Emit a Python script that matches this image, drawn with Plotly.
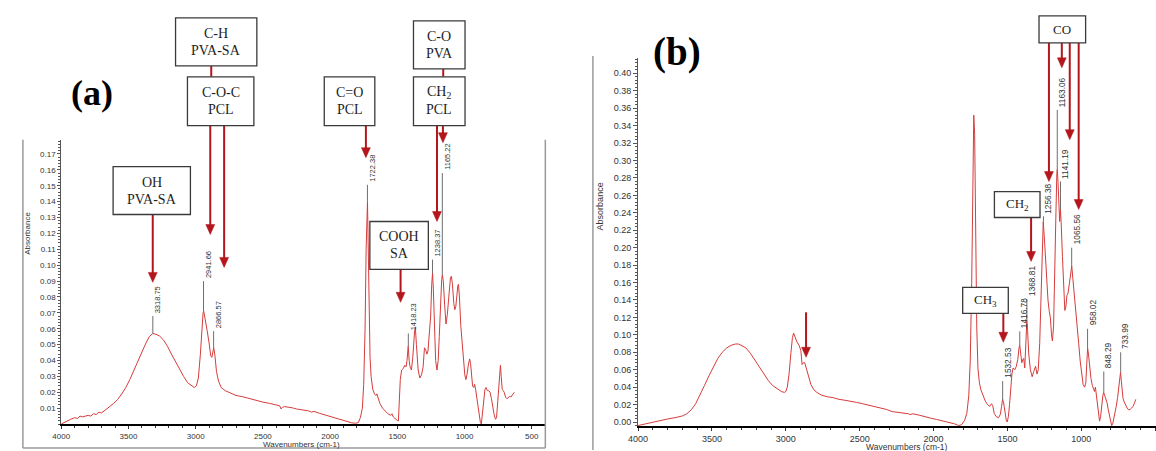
import plotly.graph_objects as go

W, H = 1156, 451
RED = "#B3161B"
CURVE = "#D63C3C"
BOXLINE = "#3A3A3A"
SANS = "Liberation Sans, Arial, sans-serif"
SERIF = "Liberation Serif, Times New Roman, serif"

# ---------------- data ----------------
wn_a = [4000, 3960, 3930, 3900, 3880, 3860, 3840, 3820, 3800, 3780, 3760, 3740, 3720, 3700, 3680, 3660,
        3640, 3610, 3580, 3550, 3520, 3490, 3460, 3430, 3400, 3370, 3345, 3320, 3295, 3270, 3240, 3210,
        3180, 3150, 3120, 3090, 3060, 3030, 3010, 2995, 2980, 2965, 2955, 2945, 2940, 2930, 2915, 2900,
        2888, 2880, 2872, 2866, 2858, 2845, 2830, 2810, 2780, 2740, 2700, 2650, 2600, 2550, 2500, 2450,
        2400, 2375, 2365, 2355, 2340, 2310, 2280, 2250, 2200, 2160, 2140, 2120, 2080, 2040, 2000, 1960,
        1920, 1880, 1840, 1810, 1790, 1775, 1760, 1750, 1740, 1732, 1726, 1722, 1717, 1710, 1703, 1695,
        1683, 1670, 1660, 1652, 1645, 1630, 1610, 1590, 1570, 1550, 1540, 1530, 1515, 1500, 1492, 1485,
        1478, 1468, 1455, 1445, 1435, 1428, 1419, 1412, 1405, 1395, 1385, 1372, 1366, 1358, 1345, 1333,
        1320, 1308, 1298, 1290, 1280, 1272, 1262, 1252, 1244, 1238, 1232, 1224, 1215, 1205, 1196, 1188,
        1178, 1170, 1165, 1158, 1148, 1138, 1128, 1118, 1105, 1098, 1090, 1080, 1072, 1065, 1058, 1050,
        1045, 1038, 1028, 1018, 1008, 998, 990, 982, 972, 962, 955, 948, 940, 932, 925, 918, 905, 893,
        882, 875, 868, 858, 848, 840, 830, 820, 810, 800, 790, 780, 770, 762, 752, 740, 733, 727, 720,
        712, 705, 695, 685, 675, 665, 655, 645, 635, 630]
abs_a = [0.000, 0.002, 0.003, 0.004, 0.0035, 0.005, 0.0045, 0.005, 0.0055, 0.005, 0.0065, 0.006, 0.0075,
         0.007, 0.0085, 0.0095, 0.011, 0.013, 0.0155, 0.019, 0.023, 0.028, 0.034, 0.040, 0.046, 0.051,
         0.055, 0.057, 0.0565, 0.0555, 0.053, 0.049, 0.044, 0.039, 0.034, 0.030, 0.026, 0.024, 0.023,
         0.024, 0.029, 0.044, 0.058, 0.070, 0.071, 0.067, 0.059, 0.051, 0.043, 0.042, 0.047, 0.048,
         0.044, 0.033, 0.027, 0.023, 0.021, 0.0195, 0.018, 0.0172, 0.016, 0.0148, 0.0138, 0.013, 0.0122,
         0.0115, 0.0095, 0.0105, 0.011, 0.0108, 0.0102, 0.0095, 0.0088, 0.0083, 0.0075, 0.0080, 0.0068,
         0.0058, 0.0048, 0.0035, 0.0025, 0.0015, 0.0008, 0.0005, 0.001, 0.004, 0.010, 0.025, 0.060,
         0.110, 0.139, 0.140, 0.115, 0.070, 0.042, 0.030, 0.022, 0.019, 0.018, 0.019, 0.0165, 0.013,
         0.010, 0.008, 0.0065, 0.0055, 0.0065, 0.0045, 0.003, 0.0022, 0.002, 0.012, 0.028, 0.034, 0.035,
         0.037, 0.036, 0.040, 0.049, 0.040, 0.036, 0.034, 0.042, 0.058, 0.061, 0.050, 0.034, 0.029,
         0.031, 0.036, 0.048, 0.047, 0.044, 0.046, 0.055, 0.068, 0.088, 0.095, 0.085, 0.058, 0.040,
         0.034, 0.040, 0.055, 0.078, 0.091, 0.094, 0.090, 0.075, 0.063, 0.069, 0.082, 0.092, 0.093,
         0.088, 0.076, 0.072, 0.074, 0.083, 0.087, 0.088, 0.080, 0.062, 0.052, 0.040, 0.031, 0.028,
         0.031, 0.037, 0.041, 0.038, 0.030, 0.024, 0.023, 0.025, 0.022, 0.014, 0.006, 0.001, 0.000,
         0.005, 0.015, 0.022, 0.023, 0.021, 0.021, 0.020, 0.016, 0.010, 0.006, 0.003, 0.004, 0.015,
         0.028, 0.037, 0.030, 0.022, 0.021, 0.020, 0.017, 0.016, 0.0165, 0.0175, 0.017, 0.0185, 0.0195,
         0.020]

wn_b = [4000, 3950, 3900, 3850, 3800, 3750, 3700, 3670, 3640, 3610, 3580, 3550, 3520, 3490, 3460, 3430,
        3400, 3370, 3340, 3320, 3300, 3270, 3240, 3210, 3180, 3150, 3120, 3090, 3060, 3030, 3010, 3000,
        2990, 2978, 2965, 2955, 2947, 2938, 2925, 2910, 2898, 2890, 2882, 2872, 2860, 2845, 2830, 2810,
        2790, 2760, 2720, 2680, 2640, 2600, 2560, 2520, 2480, 2440, 2400, 2360, 2320, 2280, 2240, 2200,
        2170, 2160, 2140, 2100, 2060, 2020, 1980, 1940, 1900, 1860, 1830, 1810, 1790, 1775, 1762, 1752,
        1742, 1734, 1728, 1722, 1716, 1708, 1700, 1690, 1680, 1665, 1650, 1635, 1620, 1608, 1600, 1590,
        1575, 1560, 1548, 1540, 1533, 1526, 1518, 1508, 1502, 1494, 1486, 1478, 1470, 1462, 1450, 1440,
        1430, 1422, 1417, 1410, 1403, 1396, 1390, 1383, 1377, 1372, 1369, 1364, 1356, 1345, 1333, 1322,
        1310, 1300, 1292, 1282, 1272, 1264, 1258, 1250, 1242, 1234, 1226, 1218, 1210, 1202, 1196, 1188,
        1180, 1172, 1166, 1163, 1158, 1152, 1147, 1142, 1137, 1128, 1120, 1112, 1105, 1098, 1090, 1082,
        1075, 1068, 1065, 1058, 1048, 1038, 1028, 1018, 1008, 998, 988, 978, 970, 964, 958, 952, 944,
        935, 926, 918, 911, 905, 899, 892, 884, 877, 870, 862, 855, 849, 842, 834, 826, 818, 810, 802,
        795, 788, 780, 772, 764, 755, 746, 740, 735, 730, 725, 718, 710, 700, 690, 680, 670, 660, 650,
        640, 632]
abs_b = [-0.004, -0.002, 0.000, 0.002, 0.0035, 0.005, 0.007, 0.0095, 0.014, 0.021, 0.031, 0.042, 0.053,
         0.064, 0.073, 0.080, 0.085, 0.088, 0.0895, 0.0895, 0.088, 0.085, 0.079, 0.071, 0.063, 0.055,
         0.048, 0.042, 0.038, 0.035, 0.034, 0.035, 0.040, 0.055, 0.080, 0.097, 0.102, 0.098, 0.092,
         0.088, 0.082, 0.066, 0.068, 0.068, 0.060, 0.050, 0.043, 0.037, 0.034, 0.031, 0.029, 0.028,
         0.026, 0.025, 0.024, 0.0225, 0.021, 0.0195, 0.018, 0.016, 0.0145, 0.012, 0.011, 0.0105, 0.0095,
         0.0085, 0.0095, 0.008, 0.006, 0.0045, 0.003, 0.0015, 0.0, -0.002, -0.004, -0.003, 0.002, 0.010,
         0.030, 0.070, 0.160, 0.300, 0.352, 0.330, 0.220, 0.110, 0.062, 0.045, 0.037, 0.030, 0.024,
         0.020, 0.018, 0.021, 0.019, 0.010, 0.006, 0.005, 0.009, 0.018, 0.026, 0.022, 0.010, 0.002, 0.0,
         0.006, 0.020, 0.040, 0.055, 0.062, 0.060, 0.064, 0.072, 0.085, 0.088, 0.078, 0.068, 0.072,
         0.073, 0.062, 0.080, 0.105, 0.116, 0.105, 0.078, 0.060, 0.052, 0.058, 0.064, 0.055, 0.060,
         0.090, 0.150, 0.210, 0.230, 0.210, 0.185, 0.160, 0.140, 0.128, 0.120, 0.100, 0.093, 0.110,
         0.160, 0.240, 0.285, 0.290, 0.275, 0.240, 0.230, 0.244, 0.230, 0.190, 0.150, 0.128, 0.132,
         0.145, 0.148, 0.158, 0.170, 0.178, 0.179, 0.165, 0.148, 0.130, 0.112, 0.090, 0.070, 0.055,
         0.043, 0.040, 0.045, 0.065, 0.085, 0.078, 0.062, 0.050, 0.042, 0.037, 0.035, 0.040, 0.030,
         0.020, 0.008, 0.001, 0.006, 0.022, 0.030, 0.034, 0.030, 0.026, 0.022, 0.014, 0.006, 0.000,
         -0.004, -0.002, 0.004, 0.010, 0.018, 0.028, 0.040, 0.052, 0.057, 0.048, 0.035, 0.027, 0.023,
         0.019, 0.016, 0.014, 0.0145, 0.016, 0.018, 0.022, 0.026]

# labelled peaks: wavenumber, peak height, top of leader line
peaks_a_wn = [3318.75, 2941.66, 2866.57, 1722.38, 1418.23, 1238.37, 1165.22]
peaks_a_h = [0.057, 0.071, 0.048, 0.140, 0.049, 0.095, 0.094]
peaks_a_top = [0.068, 0.090, 0.0585, 0.1506, 0.057, 0.1035, 0.158]

peaks_b_wn = [1532.53, 1416.78, 1368.81, 1256.38, 1163.06, 1141.19, 1065.56, 958.02, 848.29, 733.99]
peaks_b_h = [0.025, 0.088, 0.116, 0.230, 0.290, 0.244, 0.179, 0.085, 0.034, 0.057]
peaks_b_top = [0.047, 0.104, 0.141, 0.236, 0.358, 0.276, 0.200, 0.107, 0.058, 0.080]

x_ticks = [4000, 3500, 3000, 2500, 2000, 1500, 1000, 500]
y_ticks_a = [0.01, 0.02, 0.03, 0.04, 0.05, 0.06, 0.07, 0.08, 0.09, 0.10, 0.11, 0.12, 0.13, 0.14, 0.15,
             0.16, 0.17]
y_ticks_b = [0.00, 0.02, 0.04, 0.06, 0.08, 0.10, 0.12, 0.14, 0.16, 0.18, 0.20, 0.22, 0.24, 0.26, 0.28,
             0.30, 0.32, 0.34, 0.36, 0.38, 0.40]

# callout boxes (pixel geometry) and their texts
boxes = [
    (["C-H", "PVA-SA"], 167, 249, 18, 66, 14),
    (["C-O-C", "PCL"], 179, 246, 77, 126, 14),
    (["OH", "PVA-SA"], 104, 182, 167, 215, 14),
    (["C=O", "PCL"], 317, 368, 77, 126, 14),
    (["C-O", "PVA"], 407, 459, 21, 69, 14),
    (["CH<sub>2</sub>", "PCL"], 407, 459, 77, 126, 14),
    (["COOH", "SA"], 363, 422, 222, 270, 14),
    (["CO"], 1038, 1085, 16, 43, 13),
    (["CH<sub>2</sub>"], 993, 1039, 192, 218, 13),
    (["CH<sub>3</sub>"], 961, 1007, 288, 314, 13),
]
arrows = [(202, 126, 235), (216, 126, 268), (144, 215, 283), (359, 126, 158), (430.7, 126, 222),
          (436.7, 126, 143), (394, 270, 303),
          (1048, 43, 182), (1061, 43, 68), (1069, 43, 140), (1078, 43, 210), (1030, 218, 262),
          (1002, 314, 343), (803, 313, 358)]
connectors = [(203, 66, 77), (437, 69, 77)]

# ---------------- figure ----------------
fig = go.Figure()
fig.add_trace(go.Scatter(x=wn_a, y=abs_a, mode="lines", line=dict(color=CURVE, width=1),
                         xaxis="x", yaxis="y", hoverinfo="skip"))
fig.add_trace(go.Scatter(x=wn_b, y=abs_b, mode="lines", line=dict(color=CURVE, width=1),
                         xaxis="x2", yaxis="y2", hoverinfo="skip"))

shapes = []
annotations = []


def px(x):
    return x / W


def py(y):
    return 1 - y / H


# peak leader lines + rotated labels
for wn, h, top, xr, yr, fs in ([(w, a, t, "x", "y", 7.5) for w, a, t in zip(peaks_a_wn, peaks_a_h, peaks_a_top)] +
                               [(w, a, t, "x2", "y2", 8.3) for w, a, t in zip(peaks_b_wn, peaks_b_h, peaks_b_top)]):
    shapes.append(dict(type="line", xref=xr, yref=yr, x0=wn, x1=wn, y0=h, y1=top,
                       line=dict(color="#6E6E6E", width=1)))
    annotations.append(dict(xref=xr, yref=yr, x=wn, y=top, text=f"{wn:.2f}", showarrow=False,
                            textangle=-90, xanchor="center", yanchor="bottom", xshift=5, yshift=1,
                            font=dict(family=SANS, size=fs, color="#333333")))

# panel frames (gray)
frame = dict(color="#9A9A9A", width=1.5)
shapes += [
    dict(type="line", xref="paper", yref="paper", x0=px(13), x1=px(13), y0=py(140), y1=py(449), line=frame),
    dict(type="line", xref="paper", yref="paper", x0=px(13), x1=px(540), y0=py(449), y1=py(449), line=frame),
    dict(type="line", xref="paper", yref="paper", x0=px(540), x1=px(540), y0=py(140), y1=py(449), line=frame),
    dict(type="line", xref="paper", yref="paper", x0=px(588), x1=px(588), y0=py(56), y1=py(451), line=frame),
]

# connectors
for x, y0, y1 in connectors:
    shapes.append(dict(type="line", xref="paper", yref="paper", x0=px(x), x1=px(x), y0=py(y0), y1=py(y1),
                       line=dict(color=RED, width=2)))

# arrows
HL, HW = 10, 9
for x, y0, y1 in arrows:
    shapes.append(dict(type="line", xref="paper", yref="paper", x0=px(x), x1=px(x), y0=py(y0),
                       y1=py(y1 - HL + 1), line=dict(color=RED, width=2)))
    path = (f"M {px(x - HW / 2)},{py(y1 - HL)} L {px(x + HW / 2)},{py(y1 - HL)} "
            f"L {px(x)},{py(y1)} Z")
    shapes.append(dict(type="path", xref="paper", yref="paper", path=path, fillcolor=RED,
                       line=dict(color=RED, width=0.5)))

# callout boxes
for lines, x0, x1, y0, y1, fs in boxes:
    shapes.append(dict(type="rect", xref="paper", yref="paper", x0=px(x0), x1=px(x1), y0=py(y1), y1=py(y0),
                       fillcolor="white", line=dict(color=BOXLINE, width=1.3)))
    cx, cy = (x0 + x1) / 2, (y0 + y1) / 2
    if len(lines) == 2:
        offs = [-8.5, 8.5]
    else:
        offs = [0]
    for t, o in zip(lines, offs):
        annotations.append(dict(xref="paper", yref="paper", x=px(cx), y=py(cy + o), text=t, showarrow=False,
                                xanchor="center", yanchor="middle",
                                font=dict(family=SERIF, size=fs, color="#1E1E1E")))

# panel letters
annotations.append(dict(xref="paper", yref="paper", x=px(82.5), y=py(93), text="<b>(a)</b>", showarrow=False,
                        xanchor="center", yanchor="middle", font=dict(family=SERIF, size=36, color="black")))
annotations.append(dict(xref="paper", yref="paper", x=px(672.5), y=py(52), text="<b>(b)</b>", showarrow=False,
                        xanchor="center", yanchor="middle", font=dict(family=SERIF, size=39, color="black")))

# axis titles
annotations.append(dict(xref="paper", yref="paper", x=px(17.5), y=py(234), text="Absorbance", showarrow=False,
                        textangle=-90, xanchor="center", yanchor="middle",
                        font=dict(family=SANS, size=8, color="#333333")))
annotations.append(dict(xref="paper", yref="paper", x=px(294), y=py(445), text="Wavenumbers (cm-1)",
                        showarrow=False, xanchor="center", yanchor="middle",
                        font=dict(family=SANS, size=8, color="#333333")))
annotations.append(dict(xref="paper", yref="paper", x=px(595), y=py(207), text="Absorbance", showarrow=False,
                        textangle=-90, xanchor="center", yanchor="middle",
                        font=dict(family=SANS, size=9, color="#333333")))
annotations.append(dict(xref="paper", yref="paper", x=px(905), y=py(447.5), text="Wavenumbers (cm-1)",
                        showarrow=False, xanchor="center", yanchor="middle",
                        font=dict(family=SANS, size=8.5, color="#333333")))

common_x = dict(showgrid=False, zeroline=False, showline=True, linecolor="black", linewidth=2,
                ticks="outside", tickcolor="#333333", tickvals=x_ticks, ticktext=[str(v) for v in x_ticks])
common_y = dict(showgrid=False, zeroline=False, showline=True, linecolor="#555555", linewidth=1,
                ticks="outside", tickcolor="#555555", tickformat=".2f")

fig.update_layout(
    width=W, height=H, margin=dict(l=0, r=0, t=0, b=0), autosize=False,
    paper_bgcolor="white", plot_bgcolor="white", showlegend=False,
    xaxis=dict(common_x, domain=[px(51.7), px(540)], range=[4000, 399], anchor="y", ticklen=3,
               tickfont=dict(family=SANS, size=8, color="#333333"),
               minor=dict(ticks="outside", ticklen=2, dtick=100, tick0=0, tickcolor="#333333")),
    yaxis=dict(common_y, domain=[py(425), py(140)], range=[0, 0.179], anchor="x", ticklen=3,
               tickvals=y_ticks_a, tickfont=dict(family=SANS, size=8, color="#333333"),
               minor=dict(ticks="outside", ticklen=2, dtick=0.002, tick0=0, tickcolor="#555555")),
    xaxis2=dict(common_x, domain=[px(633.5), 1], range=[4000, 495], anchor="y2", ticklen=3,
                tickfont=dict(family=SANS, size=9, color="#333333"),
                minor=dict(ticks="outside", ticklen=2, dtick=100, tick0=0, tickcolor="#333333")),
    yaxis2=dict(common_y, domain=[py(427), py(58)], range=[-0.0046, 0.4177], anchor="x2", ticklen=4,
                tickvals=y_ticks_b, tickfont=dict(family=SANS, size=9, color="#333333"),
                minor=dict(ticks="outside", ticklen=2, dtick=0.004, tick0=0, tickcolor="#555555")),
    shapes=shapes, annotations=annotations,
)

fig.write_html("out.html", config={"displayModeBar": False},
               post_script="document.body.style.margin='0px';"
                           "document.documentElement.style.overflow='hidden';")
